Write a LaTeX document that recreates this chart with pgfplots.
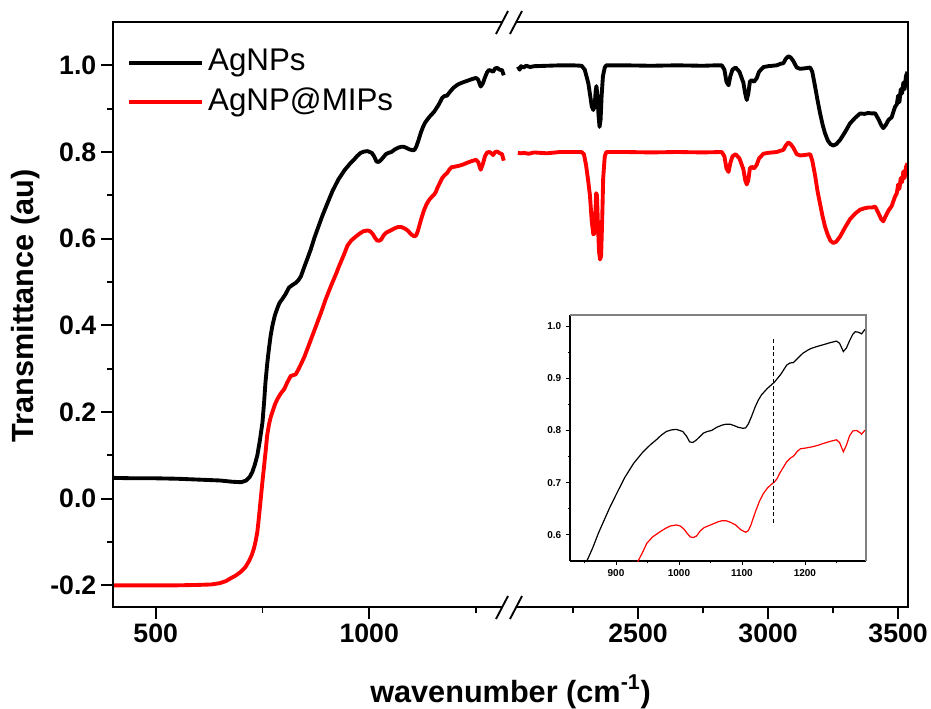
\documentclass[border=0pt]{standalone}
\usepackage{fontspec}
\setmainfont{Liberation Sans}
\setsansfont{Liberation Sans}
\usepackage{pgfplots}
\pgfplotsset{compat=1.18}
\usepackage{pgfplotstable}

\pgfplotstableread{
x y
400 0.048
450 0.047
500 0.047
550 0.046
600 0.044
650 0.042
680 0.039
700 0.038
712 0.042
720 0.050
726 0.061
732 0.078
738 0.100
744 0.135
750 0.176
754 0.225
757 0.268
761 0.310
765 0.345
769 0.375
773 0.398
779 0.423
785 0.440
790 0.452
796 0.460
804 0.472
812 0.487
820 0.493
828 0.498
834 0.504
840 0.513
848 0.535
856 0.556
863 0.575
872 0.603
880 0.625
890 0.652
901 0.679
914 0.710
928 0.737
943 0.759
955 0.773
964 0.782
972 0.791
980 0.798
988 0.801
996 0.802
1006 0.798
1012 0.789
1017 0.778
1022 0.777
1027 0.781
1033 0.788
1039 0.795
1045 0.798
1052 0.800
1060 0.806
1068 0.810
1075 0.812
1081 0.812
1088 0.809
1094 0.806
1102 0.804
1106 0.805
1110 0.812
1115 0.826
1121 0.845
1126 0.858
1131 0.868
1140 0.880
1152 0.893
1162 0.908
1171 0.925
1176 0.929
1182 0.930
1190 0.940
1197 0.948
1205 0.954
1210 0.957
1220 0.961
1229 0.964
1240 0.968
1250 0.971
1255 0.967
1261 0.951
1266 0.958
1271 0.972
1276 0.984
1280 0.989
1285 0.988
1290 0.985
1295 0.993
1300 0.994
1305 0.990
1311 0.989
1315 0.977
}\blackL

\pgfplotstableread{
x y
400 -0.200
450 -0.200
500 -0.200
550 -0.200
600 -0.199
630 -0.198
650 -0.195
665 -0.190
675 -0.184
688 -0.177
699 -0.169
710 -0.158
718 -0.145
725 -0.130
730 -0.115
734 -0.098
738 -0.077
742 -0.040
746 0.000
750 0.040
754 0.077
758 0.115
761 0.146
765 0.170
769 0.187
773 0.199
779 0.217
785 0.230
793 0.243
801 0.253
808 0.268
816 0.283
822 0.285
828 0.287
834 0.298
840 0.310
848 0.327
855 0.345
863 0.366
871 0.387
879 0.408
887 0.429
898 0.460
910 0.490
922 0.518
930 0.538
936 0.552
942 0.566
949 0.584
958 0.596
970 0.606
978 0.612
986 0.617
996 0.619
1002 0.617
1008 0.611
1013 0.603
1018 0.596
1023 0.595
1028 0.598
1034 0.608
1040 0.614
1048 0.618
1056 0.622
1062 0.625
1068 0.627
1075 0.627
1082 0.624
1090 0.619
1098 0.610
1106 0.605
1110 0.608
1114 0.618
1121 0.643
1128 0.665
1134 0.679
1140 0.689
1146 0.696
1152 0.702
1156 0.708
1160 0.718
1166 0.730
1171 0.740
1177 0.747
1182 0.751
1188 0.760
1193 0.765
1200 0.766
1213 0.769
1222 0.772
1229 0.775
1240 0.779
1250 0.782
1255 0.777
1261 0.759
1266 0.772
1271 0.790
1276 0.799
1282 0.800
1287 0.796
1290 0.793
1295 0.800
1300 0.801
1306 0.797
1311 0.795
1315 0.780
}\redL

\pgfplotstableread{
x y
2038 0.997
2045 0.990
2050 0.998
2060 0.995
2070 0.999
2085 0.996
2100 0.998
2150 0.999
2200 1.000
2250 1.000
2283 0.999
2295 0.990
2303 0.972
2309 0.958
2316 0.930
2322 0.905
2328 0.897
2333 0.905
2337 0.940
2340 0.952
2344 0.930
2348 0.885
2352 0.858
2356 0.875
2360 0.930
2365 0.975
2372 0.995
2378 1.000
2450 1.000
2550 0.999
2650 1.000
2750 0.999
2800 1.000
2822 1.000
2832 0.990
2840 0.962
2848 0.954
2855 0.975
2863 0.990
2875 0.995
2890 0.985
2905 0.960
2912 0.935
2918 0.920
2924 0.935
2930 0.962
2937 0.966
2946 0.962
2956 0.970
2965 0.985
2982 0.996
3000 0.998
3033 1.000
3050 1.004
3059 1.005
3068 1.015
3078 1.021
3087 1.018
3097 1.010
3110 0.995
3123 0.992
3140 0.993
3162 0.995
3170 0.985
3181 0.950
3190 0.920
3200 0.889
3210 0.862
3219 0.843
3230 0.826
3240 0.818
3251 0.815
3262 0.818
3277 0.828
3295 0.845
3315 0.866
3335 0.879
3354 0.889
3370 0.888
3385 0.890
3400 0.889
3412 0.889
3425 0.875
3435 0.862
3443 0.855
3452 0.862
3463 0.874
3475 0.880
3488 0.904
3495 0.910
3500 0.930
3505 0.915
3510 0.945
3515 0.935
3520 0.960
3525 0.945
3530 0.975
3536 0.985
}\blackR

\pgfplotstableread{
x y
2038 0.798
2050 0.797
2060 0.798
2080 0.796
2100 0.799
2150 0.797
2200 0.800
2283 0.800
2292 0.795
2300 0.770
2308 0.735
2315 0.700
2322 0.640
2328 0.610
2332 0.612
2336 0.660
2339 0.705
2342 0.700
2346 0.630
2350 0.570
2354 0.552
2358 0.560
2362 0.640
2366 0.740
2372 0.790
2378 0.800
2450 0.800
2550 0.799
2650 0.800
2750 0.799
2822 0.800
2832 0.790
2840 0.762
2848 0.754
2855 0.775
2863 0.790
2875 0.795
2890 0.785
2905 0.760
2912 0.735
2918 0.725
2924 0.735
2930 0.762
2937 0.766
2946 0.762
2956 0.770
2965 0.785
2982 0.796
3000 0.798
3033 0.800
3059 0.805
3068 0.815
3078 0.822
3087 0.818
3097 0.810
3110 0.795
3123 0.792
3140 0.793
3162 0.795
3170 0.780
3181 0.745
3190 0.710
3200 0.680
3210 0.650
3219 0.628
3230 0.608
3240 0.595
3251 0.590
3262 0.593
3277 0.605
3295 0.625
3315 0.645
3335 0.658
3354 0.667
3370 0.670
3385 0.672
3400 0.672
3412 0.674
3425 0.658
3435 0.645
3443 0.640
3452 0.652
3463 0.665
3475 0.675
3488 0.697
3495 0.705
3500 0.725
3505 0.715
3510 0.740
3515 0.730
3520 0.755
3525 0.740
3530 0.765
3536 0.774
}\redR

\begin{document}
\begin{tikzpicture}
\useasboundingbox (0,0) rectangle (698.25pt,531pt);

\pgfplotsset{
  mainax/.style={
    scale only axis, height=438.75pt,
    ymin=-0.25, ymax=1.1,
    axis line style={draw=none},
    tick align=outside, tick pos=left,
    major tick length=9pt, minor tick length=4.5pt,
    every tick/.style={black, line width=1.4pt},
    tick label style={font=\fontsize{20}{22}\selectfont\bfseries},
  },
}

% left part
\begin{axis}[mainax, at={(84.75pt,75.75pt)}, anchor=south west, width=296.25pt,
  xmin=400, xmax=1325,
  xtick={500,1000}, xticklabels={500,1000}, minor xtick={750,1250},
  ytick={-0.2,0,0.2,0.4,0.6,0.8,1.0},
  yticklabels={-0.2,0.0,0.2,0.4,0.6,0.8,1.0},
  minor ytick={-0.1,0.1,0.3,0.5,0.7,0.9},
  legend style={draw=none, fill=none, at={(axis description cs:0,1)}, anchor=north west,
    xshift=10.5pt, yshift=-19pt, inner sep=0pt, row sep=7pt, column sep=3pt,
    font=\fontsize{23.5}{27}\selectfont,
    nodes={inner sep=0pt, text height=17.5pt, text depth=5pt}},
  legend cell align=left,
  legend image code/.code={\draw[#1] (0pt,0pt) -- (54.75pt,0pt);},
  after end axis/.code={\draw[line width=1.5pt] (rel axis cs:1,0) -- (rel axis cs:0,0) -- (rel axis cs:0,1) -- (rel axis cs:1,1);},
]
\addplot[black, line width=2.9pt, line join=round] table {\blackL};
\addlegendentry{AgNPs}
\addplot[red, line width=2.9pt, line join=round] table {\redL};
\addlegendentry{AgNP@MIPs}
\end{axis}

% right part
\begin{axis}[mainax, at={(381pt,75.75pt)}, anchor=south west, width=300pt,
  xmin=2000, xmax=3538,
  xtick={2500,3000,3500}, xticklabels={2500,3000,3500}, minor xtick={2250,2750,3250},
  ytick=\empty,
  after end axis/.code={\draw[line width=1.5pt] (rel axis cs:0,0) -- (rel axis cs:1,0) -- (rel axis cs:1,1) -- (rel axis cs:0,1);},
]
\addplot[black, line width=2.9pt, line join=round] table {\blackR};
\addplot[red, line width=2.9pt, line join=round] table {\redR};
\end{axis}

% inset
\begin{axis}[at={(427.5pt,110.25pt)}, anchor=south west, scale only axis,
  width=222pt, height=184.5pt,
  xmin=827, xmax=1297, ymin=0.55, ymax=1.021,
  axis background/.style={fill=white},
  axis x line*=bottom, axis y line*=left,
  x axis line style={-, line width=0.8pt}, y axis line style={-, line width=0.8pt},
  tick align=outside,
  major tick length=3pt, minor tick length=1.8pt,
  every tick/.style={black, line width=0.6pt},
  xtick={900,1000,1100,1200}, xticklabels={900,1000,1100,1200},
  minor xtick={850,950,1050,1150,1250},
  ytick={0.6,0.7,0.8,0.9,1.0}, yticklabels={0.6,0.7,0.8,0.9,1.0},
  minor ytick={0.65,0.75,0.85,0.95},
  tick label style={font=\fontsize{7.5}{9}\selectfont\bfseries},
  after end axis/.code={\draw[gray, line width=1pt] (rel axis cs:0,1) -- (rel axis cs:1,1) -- (rel axis cs:1,0);},
]
\addplot[black, line width=0.9pt] table {\blackL};
\addplot[red, line width=0.9pt] table {\redL};
\addplot[black, dashed, line width=0.7pt, dash pattern=on 3pt off 2pt] coordinates {(1150,0.623) (1150,0.975)};
\end{axis}

% axis breaks
\begin{scope}[x=0.75pt, y=0.75pt]
  \fill[white] (502,682) rectangle (516,690);
  \draw[line width=1.4pt] (496,674) -- (508,697);
  \draw[line width=1.4pt] (510,674) -- (522,697);
  \fill[white] (502,97) rectangle (516,105);
  \draw[line width=1.4pt] (496,89) -- (508,112);
  \draw[line width=1.4pt] (510,89) -- (522,112);
  \node[anchor=base, font=\fontsize{23}{26}\selectfont\bfseries] at (510.5,6) {wavenumber (cm\textsuperscript{-1})};
  \node[rotate=90, font=\fontsize{23}{26}\selectfont\bfseries] at (26,402) {Transmittance (au)};
\end{scope}
\end{tikzpicture}
\end{document}
